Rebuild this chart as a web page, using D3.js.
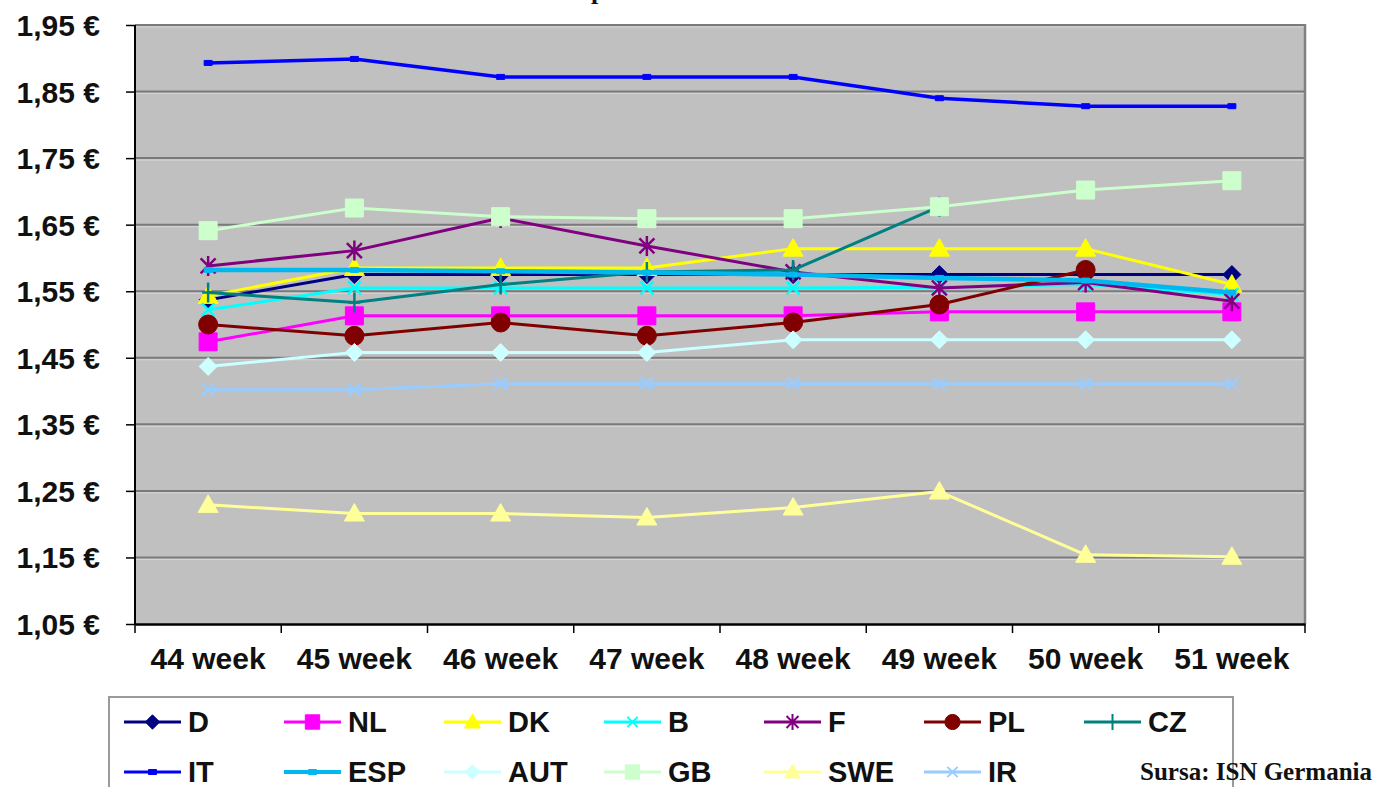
<!DOCTYPE html>
<html>
<head>
<meta charset="utf-8">
<script src="https://cdn.jsdelivr.net/npm/d3@7/dist/d3.min.js"></script>
<style>
html,body{margin:0;padding:0;background:#fff;}
svg{display:block;}
text{font-family:"Liberation Sans",Arial,sans-serif;}
</style>
</head>
<body>
<svg id="chart" width="1376" height="787"></svg>
<script>
const weeks = ["44 week","45 week","46 week","47 week","48 week","49 week","50 week","51 week"];
const yTicks = [1.05,1.15,1.25,1.35,1.45,1.55,1.65,1.75,1.85,1.95];
const seriesNames = ["D","NL","DK","B","F","PL","CZ","IT","ESP","AUT","GB","SWE","IR"];
const D   = [1.537,1.575,1.575,1.575,1.575,1.575,1.575,1.575];
const NL  = [1.474,1.513,1.513,1.513,1.513,1.519,1.519,1.519];
const DK  = [1.543,1.585,1.585,1.585,1.614,1.614,1.614,1.560];
const B   = [1.522,1.555,1.555,1.555,1.555,1.556,1.560,1.545];
const F   = [1.588,1.611,1.660,1.618,1.579,1.555,1.563,1.535];
const PL  = [1.500,1.483,1.503,1.483,1.503,1.530,1.582,null];
const CZ  = [1.548,1.533,1.560,1.579,1.582,1.677,null,null];
const IT  = [1.893,1.899,1.872,1.872,1.872,1.840,1.828,1.828];
const ESP = [1.582,1.582,1.580,1.578,1.575,1.570,1.566,1.548];
const AUT = [1.437,1.458,1.458,1.458,1.477,1.477,1.477,1.477];
const GB  = [1.641,1.675,1.662,1.659,1.659,1.677,1.702,1.716];
const SWE = [1.229,1.216,1.216,1.210,1.225,1.249,1.154,1.151];
const IR  = [1.402,1.402,1.411,1.411,1.411,1.411,1.411,1.411];
const seriesValues = [D,NL,DK,B,F,PL,CZ,IT,ESP,AUT,GB,SWE,IR];
const seriesColors = ["#000080","#FF00FF","#FFFF00","#00FFFF","#800080","#800000","#008080","#0000FF","#00B8F0","#CCFFFF","#CCFFCC","#FFFF99","#99CCFF"];
const seriesMarkers = ["diamond","square","triangle","x","asterisk","circle","plus","dash","dash","diamond","square","triangle","x"];
const sourceText = "Sursa: ISN Germania";

const svg = d3.select("#chart");
const L = 135, R = 1305, T = 25, Bm = 624;

const x = d3.scaleBand().domain(weeks).range([L, R]);
const y = d3.scaleLinear().domain([1.05, 1.95]).range([Bm, T]);
const cx = w => x(w) + x.bandwidth() / 2;

// cut-off title
svg.append("text").attr("x", 591).attr("y", -1)
  .style("font-family", "'Liberation Serif','Times New Roman',serif")
  .style("font-weight", "bold").style("font-size", "26px").attr("fill", "#111").text("p");

// plot background
svg.append("rect").attr("x", L).attr("y", T).attr("width", R - L).attr("height", Bm - T).attr("fill", "#C0C0C0");

// gridlines + y axis
const fmt = v => d3.format(".2f")(v).replace(".", ",") + " €";
const yAxis = svg.append("g").attr("transform", `translate(${L},0)`)
  .call(d3.axisLeft(y).tickValues(yTicks).tickSize(9).tickFormat(fmt));
yAxis.select(".domain").remove();
yAxis.selectAll(".tick line").attr("stroke", "#000").attr("stroke-width", 1.5);
yAxis.selectAll(".tick text").attr("x", -35).attr("dy", "0.35em")
  .style("font-size", "30px").style("font-weight", "bold").attr("fill", "#111");

const grid = svg.append("g");
grid.selectAll("line").data(yTicks.filter(v => v > 1.05)).join("line")
  .attr("x1", L).attr("x2", R).attr("y1", d => y(d)).attr("y2", d => y(d))
  .attr("stroke", "#7a7a7a").attr("stroke-width", 2);
grid.selectAll("line.hl").data(yTicks.filter(v => v > 1.05)).join("line").attr("class","hl")
  .attr("x1", L).attr("x2", R).attr("y1", d => y(d) + 2).attr("y2", d => y(d) + 2)
  .attr("stroke", "#d6d6d6").attr("stroke-width", 1);

// right border
svg.append("line").attr("x1", R).attr("x2", R).attr("y1", T - 1).attr("y2", Bm)
  .attr("stroke", "#808080").attr("stroke-width", 2.5);
// left axis line
svg.append("line").attr("x1", L).attr("x2", L).attr("y1", T).attr("y2", Bm + 1)
  .attr("stroke", "#000").attr("stroke-width", 2);

// x axis
const xAxis = svg.append("g").attr("transform", `translate(0,${Bm})`)
  .call(d3.axisBottom(x).tickSize(0).tickPadding(24));
xAxis.select(".domain").attr("stroke", "#000").attr("stroke-width", 2.5);
xAxis.selectAll(".tick text").style("font-size", "30px").style("font-weight", "bold").attr("fill", "#111");
const bounds = weeks.map(w => x(w)).concat([x.range()[1]]);
svg.append("g").selectAll("line").data(bounds).join("line")
  .attr("x1", d => d).attr("x2", d => d).attr("y1", Bm).attr("y2", Bm + 9)
  .attr("stroke", "#000").attr("stroke-width", 1.5);

// marker paths
function markerPath(type, s) {
  switch (type) {
    case "diamond": return `M0,${-s}L${s},0L0,${s}L${-s},0Z`;
    case "square": return `M${-s},${-s}H${s}V${s}H${-s}Z`;
    case "triangle": return `M0,${-s}L${s},${s*0.75}L${-s},${s*0.75}Z`;
    case "circle": return d3.arc()({innerRadius:0, outerRadius:s, startAngle:0, endAngle:2*Math.PI});
    case "x": return `M${-s*0.8},${-s*0.8}L${s*0.8},${s*0.8}M${-s*0.8},${s*0.8}L${s*0.8},${-s*0.8}`;
    case "asterisk": return `M${-s*0.75},${-s*0.75}L${s*0.75},${s*0.75}M${-s*0.75},${s*0.75}L${s*0.75},${-s*0.75}M0,${-s}V${s}`;
    case "plus": return `M0,${-s}V${s}M${-s*0.6},0H${s*0.6}`;
    case "dash": return `M-4,-2.5H4V2.5H-4Z`;
  }
}
const isStroke = t => t === "x" || t === "asterisk" || t === "plus";
const markerSize = t => ({diamond:9, square:9, triangle:10, circle:9.5, x:8, asterisk:10, plus:10, dash:4}[t]);
const lineWidth = (i) => seriesNames[i] === "ESP" ? 4.5 : (seriesNames[i] === "IT" ? 3.5 : 3);

const line = d3.line().defined(d => d.v != null).x(d => cx(d.w)).y(d => y(d.v));

const plot = svg.append("g");
seriesNames.forEach((name, i) => {
  const pts = weeks.map((w, j) => ({w, v: seriesValues[i][j]}));
  const g = plot.append("g");
  g.append("path").datum(pts).attr("d", line).attr("fill", "none")
    .attr("stroke", seriesColors[i]).attr("stroke-width", lineWidth(i)).attr("stroke-linejoin", "round");
  const t = seriesMarkers[i];
  g.selectAll("path.m").data(pts.filter(d => d.v != null)).join("path").attr("class", "m")
    .attr("transform", d => `translate(${cx(d.w)},${y(d.v)})`)
    .attr("d", markerPath(t, markerSize(t)))
    .attr("fill", isStroke(t) ? "none" : seriesColors[i])
    .attr("stroke", seriesColors[i]).attr("stroke-width", isStroke(t) ? 2.5 : 1);
});

// legend
const lg = svg.append("g");
lg.append("rect").attr("x", 109).attr("y", 697).attr("width", 1124).attr("height", 120)
  .attr("fill", "#fff").attr("stroke", "#9a9a9a").attr("stroke-width", 2);
seriesNames.forEach((name, i) => {
  const col = i % 7, row = Math.floor(i / 7);
  const x0 = 124 + col * 160, yy = 722 + row * 50;
  const t = seriesMarkers[i];
  lg.append("line").attr("x1", x0).attr("x2", x0 + 57).attr("y1", yy).attr("y2", yy)
    .attr("stroke", seriesColors[i]).attr("stroke-width", name === "ESP" ? 4 : 3);
  lg.append("path").attr("transform", `translate(${x0 + 28.5},${yy})`)
    .attr("d", markerPath(t, markerSize(t) * 0.8))
    .attr("fill", isStroke(t) ? "none" : seriesColors[i])
    .attr("stroke", seriesColors[i]).attr("stroke-width", isStroke(t) ? 2 : 1);
  lg.append("text").attr("x", x0 + 64).attr("y", yy).attr("dy", "0.36em")
    .style("font-size", "29px").style("font-weight", "bold").attr("fill", "#111").text(name);
});

svg.append("text").attr("x", 1372).attr("y", 780).attr("text-anchor", "end")
  .style("font-family", "'Liberation Serif','Times New Roman',serif")
  .style("font-weight", "bold").style("font-size", "25px").attr("fill", "#111").text(sourceText);
</script>
</body>
</html>
